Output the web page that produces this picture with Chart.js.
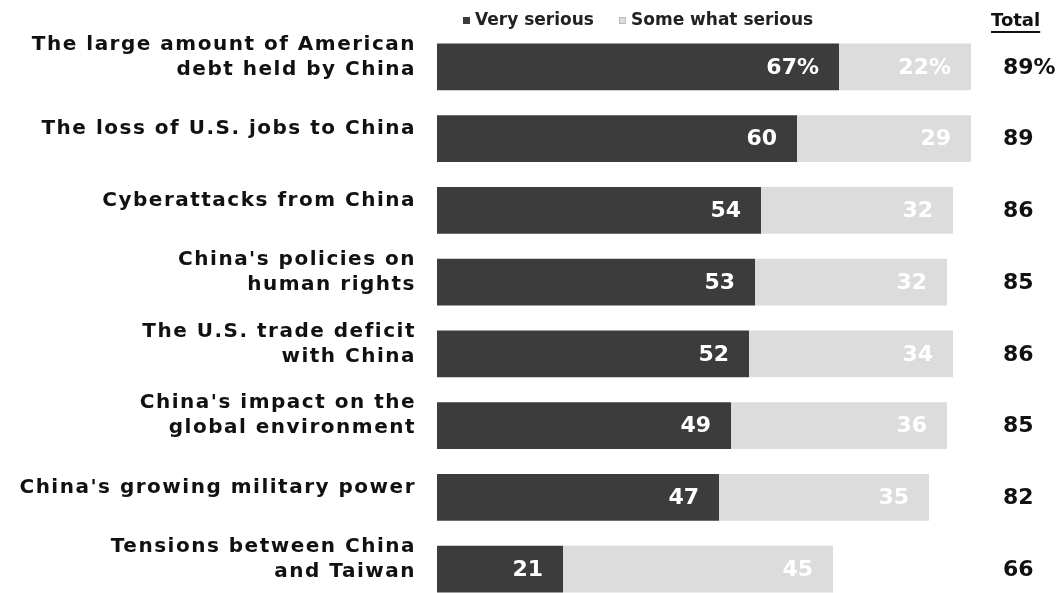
<!DOCTYPE html>
<html lang="en">
<head>
  <meta charset="UTF-8">
  <title>China concerns</title>
  <style>
    html, body { margin: 0; padding: 0; overflow: hidden; background: #fff; }
    .chartBox { width: 1062px; height: 606px; }
  </style>
</head>
<body>
  <div class="chartBox">
    <canvas id="myChart"></canvas>
  </div>

<script src="https://cdn.jsdelivr.net/npm/chart.js"></script>
<script>
  // data
  const categories = [
    ['The large amount of American', 'debt held by China'],
    'The loss of U.S. jobs to China',
    'Cyberattacks from China',
    ["China's policies on", 'human rights'],
    ['The U.S. trade deficit', 'with China'],
    ["China's impact on the", 'global environment'],
    "China's growing military power",
    ['Tensions between China', 'and Taiwan']
  ];
  const verySerious = [67, 60, 54, 53, 52, 49, 47, 21];
  const somewhatSerious = [22, 29, 32, 32, 34, 36, 35, 45];
  const totals = [89, 89, 86, 85, 86, 85, 82, 66];
  const seriesNames = ['Very serious', 'Some what serious'];

  const darkColor = '#3c3c3c';
  const lightColor = '#dcdcdc';
  const fontName = "'DejaVu Sans', sans-serif";

  // wider spacing for the category labels only
  const spacingPlugin = {
    id: 'spacing',
    beforeDraw(chart) { chart.ctx.letterSpacing = '1.5px'; },
    beforeDatasetsDraw(chart) { chart.ctx.letterSpacing = '0px'; }
  };

  // numbers inside the bars, totals column, header row
  const labelsPlugin = {
    id: 'labels',
    afterDatasetsDraw(chart) {
      const ctx = chart.ctx;
      ctx.save();
      ctx.font = 'bold 22px ' + fontName;
      ctx.textAlign = 'right';
      ctx.textBaseline = 'middle';
      ctx.fillStyle = '#ffffff';
      chart.data.datasets.forEach((ds, di) => {
        chart.getDatasetMeta(di).data.forEach((bar, i) => {
          const txt = ds.data[i] + (i === 0 ? '%' : '');
          ctx.fillText(txt, bar.x - 20, bar.y + 1);
        });
      });

      const yScale = chart.scales.y;
      const totalX = chart.chartArea.right - 34;
      ctx.textAlign = 'left';
      ctx.fillStyle = '#111111';
      totals.forEach((t, i) => {
        ctx.fillText(t + (i === 0 ? '%' : ''), totalX, yScale.getPixelForValue(i) + 1);
      });

      // header: legend + Total
      const hy = 21;
      ctx.font = 'bold 17px ' + fontName;
      ctx.fillStyle = '#222222';
      ctx.fillText(seriesNames[0], 475, hy);
      ctx.fillStyle = darkColor;
      ctx.fillRect(463, hy - 4, 7, 7);
      ctx.fillStyle = '#222222';
      ctx.fillText(seriesNames[1], 631, hy);
      ctx.fillStyle = lightColor;
      ctx.fillRect(619, hy - 4, 7, 7);
      ctx.strokeStyle = '#bbbbbb';
      ctx.lineWidth = 1;
      ctx.strokeRect(619.5, hy - 3.5, 6, 6);

      ctx.font = 'bold 18px ' + fontName;
      ctx.fillStyle = '#111111';
      const tw = ctx.measureText('Total').width;
      ctx.fillText('Total', totalX - 12, hy);
      ctx.fillRect(totalX - 12, hy + 10, tw, 2);
      ctx.restore();
    }
  };

  new Chart(document.getElementById('myChart'), {
    type: 'bar',
    data: {
      labels: categories,
      datasets: [
        {
          label: seriesNames[0],
          data: verySerious,
          backgroundColor: darkColor,
          categoryPercentage: 1,
          barPercentage: 0.655
        },
        {
          label: seriesNames[1],
          data: somewhatSerious,
          backgroundColor: lightColor,
          categoryPercentage: 1,
          barPercentage: 0.655
        }
      ]
    },
    options: {
      indexAxis: 'y',
      responsive: true,
      maintainAspectRatio: false,
      animation: false,
      layout: { padding: { top: 31, right: 25, bottom: 1, left: 0 } },
      plugins: {
        legend: { display: false },
        tooltip: { enabled: false }
      },
      scales: {
        x: {
          stacked: true,
          display: false,
          min: 0,
          max: 100
        },
        y: {
          stacked: true,
          grid: { display: false },
          border: { display: false },
          afterFit(scale) {
            scale.width = 437;
            scale.paddingTop = 0;
            scale.paddingBottom = 0;
          },
          ticks: {
            padding: 13,
            labelOffset: -10,
            color: '#111111',
            font: { family: fontName, size: 20, weight: 'bold', lineHeight: 1.25 }
          }
        }
      }
    },
    plugins: [spacingPlugin, labelsPlugin]
  });
</script>
</body>
</html>
